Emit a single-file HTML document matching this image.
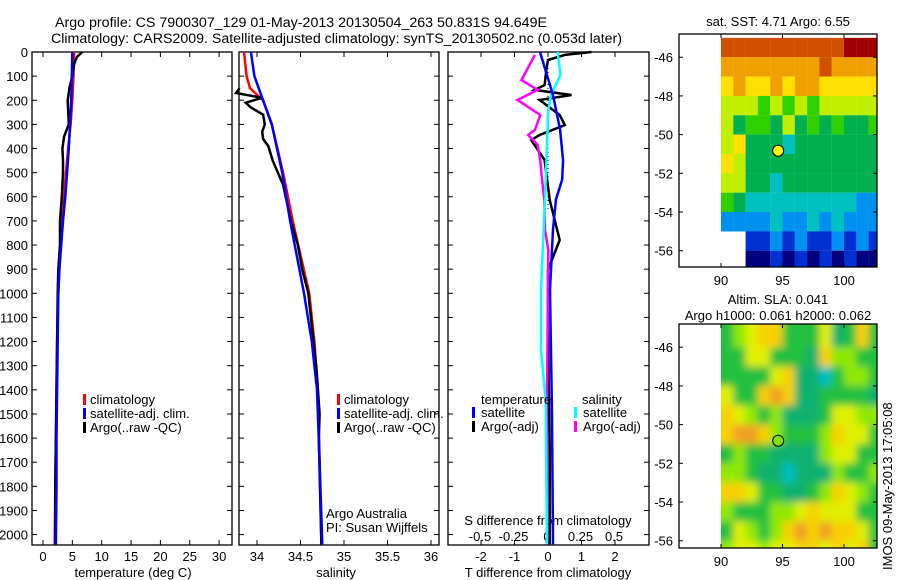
<!DOCTYPE html>
<html><head><meta charset="utf-8"><style>
body{margin:0;background:#fff;}
svg{display:block;font-family:"Liberation Sans",sans-serif;}
</style></head><body>
<svg id="fig" width="900" height="580" viewBox="0 0 900 580" xmlns="http://www.w3.org/2000/svg">
<defs><filter id="blur" x="-5%" y="-5%" width="110%" height="110%"><feGaussianBlur stdDeviation="4"/></filter></defs>
<rect width="900" height="580" fill="#fff"/>
<text x="55" y="27" font-size="14.2" textLength="492" lengthAdjust="spacingAndGlyphs">Argo profile: CS 7900307_129 01-May-2013 20130504_263 50.831S 94.649E</text>
<text x="51" y="43" font-size="14.2" textLength="571" lengthAdjust="spacingAndGlyphs">Climatology: CARS2009. Satellite-adjusted climatology: synTS_20130502.nc (0.053d later)</text>
<g id="g"></g>
</svg>
<script>
// ---- data ----
const depthTicks=[0,100,200,300,400,500,600,700,800,900,1000,1100,1200,1300,1400,1500,1600,1700,1800,1900,2000];
const tempTicks=[0,5,10,15,20,25,30];
const salTicks=[34,34.5,35,35.5,36];
const salTickLabels=["34","34.5","35","35.5","36"];
const tdTicks=[-2,-1,0,1,2];
const sdTicks=[-0.5,-0.25,0,0.25,0.5];
const sdTickLabels=["-0.5","-0.25","0","0.25","0.5"];

const climDepth=[0,100,200,300,400,500,600,700,800,900,1000,1200,1400,1600,1800,2040];
const tempClim=[5.3,5.2,5.0,4.7,4.3,3.9,3.6,3.3,3.0,2.8,2.6,2.4,2.3,2.2,2.1,2.0];
const tempSat=[5.0,4.9,4.8,4.6,4.4,4.1,3.8,3.4,3.1,2.8,2.6,2.5,2.4,2.3,2.3,2.2];
const argoTDepth=[0,20,50,100,150,200,250,300,350,400,450,500,600,700,800,900,1000,1200,1400,1600,1800,2040];
const tempArgo=[6.7,5.8,5.3,5.0,4.5,4.2,4.3,4.4,3.6,3.3,3.4,3.4,3.2,2.9,2.9,2.6,2.5,2.4,2.3,2.2,2.1,2.1];

const salClimDepth=[0,100,150,200,300,500,700,1000,1200,1400,1700,2040];
const salClim=[33.85,33.88,33.92,34.07,34.17,34.30,34.41,34.60,34.66,34.70,34.72,34.74];
const salSat=[33.93,33.97,34.02,34.07,34.17,34.29,34.38,34.54,34.63,34.69,34.72,34.75];
const salArgoDepth=[150,170,190,210,230,260,300,330,360,390,450,500,550,700,800,900,1000,1300,1500,1600,2040];
const salArgo=[33.80,33.76,34.06,33.87,33.93,34.07,34.09,34.06,34.07,34.13,34.18,34.24,34.30,34.39,34.47,34.52,34.59,34.68,34.72,34.71,34.74];

const tdDepth=[0,178,322,450,530,610,735,985,1500,2040];
const tdSat=[-0.24,0.15,0.36,0.45,0.42,0.24,0.15,0.06,0.12,0.15];
const tdArgoDepth=[0,12,33,75,137,157,178,199,261,303,344,365,448,613,779,903,1152,1649,2040];
const tdArgo=[1.3,0.5,0,-0.05,-0.1,-0.4,0.7,-0.25,0.35,0.5,-0.25,-0.5,-0.1,0.05,0.35,0,0,0.05,0.05];
const sdSatDepth=[0,95,178,240,613,986,1235,1442,2040];
const sdSat=[0.08,0.1,0.03,0.01,-0.015,-0.045,-0.045,-0.01,0];
const sdArgoDepth=[12,116,157,199,261,323,344,385,448,510,613,738,820,1442,2040];
const sdArgo=[-0.09,-0.19,-0.07,-0.22,-0.05,-0.09,-0.14,-0.07,-0.05,-0.04,-0.02,-0.015,0.01,0,0];

const mapLonTicks=[90,95,100];
const mapLatTicks=[-46,-48,-50,-52,-54,-56];
const sstRows=["9999999999AAA","8888888898888","7877878877777","6665656566666","6455464545445","6744434444444","7644444444444","6644344444444","5433333333322","2222322323222","..11212112121","..00101010100"];
const slaRows=["2345522241252","2244222153322","2222451102332","4225651122221","5432311124433","5665322235442","2322111134422","3321101113223","5542211235432","3222334544422","2432356565542","3443445545452"];
const argoLon=94.649, argoLat=-50.831;

// ---- helpers ----
const NS="http://www.w3.org/2000/svg";
const G=document.getElementById('g');
function mk(tag,attrs,parent){const e=document.createElementNS(NS,tag);for(const k in attrs)e.setAttribute(k,attrs[k]);(parent||G).appendChild(e);return e;}
const yTop=52,yBot=545;
const yD=d=>yTop+d*0.2413;
function line(xs,ds,fx,col,w,name){
  const pts=xs.map((v,i)=>fx(v).toFixed(1)+","+yD(ds[i]).toFixed(1)).join(" ");
  const p=mk('polyline',{points:pts,fill:"none",stroke:col,"stroke-width":w,"stroke-linejoin":"miter"});
  
  
}
function txt(x,y,s,size,anchor,name){const t=mk('text',{x:x,y:y,"font-size":size,"text-anchor":anchor||"start"});t.textContent=s;
  
  
  return t;}
function panel(x0,x1,name){
  const r=mk('rect',{x:x0,y:yTop,width:x1-x0,height:yBot-yTop,fill:"none",stroke:"#000","stroke-width":1.3});
  
  
  depthTicks.forEach(d=>{mk('line',{x1:x0,x2:x0+5,y1:yD(d),y2:yD(d),stroke:"#000"});mk('line',{x1:x1-5,x2:x1,y1:yD(d),y2:yD(d),stroke:"#000"});});
}
function xticks(fx,vals){vals.forEach(v=>{const x=fx(v);mk('line',{x1:x,x2:x,y1:yTop,y2:yTop+5,stroke:"#000"});mk('line',{x1:x,x2:x,y1:yBot-5,y2:yBot,stroke:"#000"});});}
function legBar(x,y,col,name){const b=mk('rect',{x:x,y:y-10,width:3,height:11,fill:col});
  
  }

// ---- panel 1: temperature ----
const fT=v=>43+v*5.87;
panel(32,232,'temperature-panel');
xticks(fT,tempTicks);
depthTicks.forEach(d=>txt(28,yD(d)+5,String(d),13,"end",'depth-tick-label'));
tempTicks.forEach(v=>txt(fT(v),561,String(v),13,"middle",'temperature-tick-label'));
txt(133,577,"temperature (deg C)",13,"middle",'temperature-axis-title');
line(tempClim,climDepth,fT,"#ff0000",2.5,'temperature-climatology-line');
line(tempArgo,argoTDepth,fT,"#000",2.5,'temperature-argo-line');
line(tempSat,climDepth,fT,"#0000ff",2.5,'temperature-satellite-line');
legBar(83,404,"#f00",'legend-climatology-swatch');txt(90,404,"climatology",13,"start",'legend-climatology');
legBar(83,418,"#00f",'legend-satellite-swatch');txt(90,418,"satellite-adj. clim.",13,"start",'legend-satellite');
legBar(83,432,"#000",'legend-argo-swatch');txt(90,432,"Argo(..raw -QC)",13,"start",'legend-argo');

// ---- panel 2: salinity ----
const fS=v=>257+(v-34)*87;
panel(239,439,'salinity-panel');
xticks(fS,salTicks);
salTicks.forEach((v,i)=>txt(fS(v),561,salTickLabels[i],13,"middle",'salinity-tick-label'));
txt(336,577,"salinity",13,"middle",'salinity-axis-title');
line(salClim,salClimDepth,fS,"#ff0000",2.5,'salinity-climatology-line');
line(salArgo,salArgoDepth,fS,"#000",2.5,'salinity-argo-line');
line(salSat,salClimDepth,fS,"#0000ff",2.5,'salinity-satellite-line');
legBar(337,404,"#f00",'legend2-climatology-swatch');txt(344,404,"climatology",13,"start",'legend2-climatology');
legBar(337,418,"#00f",'legend2-satellite-swatch');txt(344,418,"satellite-adj. clim.",13,"start",'legend2-satellite');
legBar(337,432,"#000",'legend2-argo-swatch');txt(344,432,"Argo(..raw -QC)",13,"start",'legend2-argo');
txt(326,518,"Argo Australia",13,"start",'argo-australia-label');
txt(326,532,"PI: Susan Wijffels",13,"start",'pi-label');

// ---- panel 3: differences ----
const fTd=v=>548+v*33.5, fSd=v=>547+v*134;
panel(448,649,'difference-panel');
xticks(fTd,tdTicks);
mk('line',{x1:548,x2:548,y1:yTop,y2:yD(650),stroke:"#000","stroke-dasharray":"1,3"});
tdTicks.forEach(v=>txt(fTd(v),561,String(v),13,"middle",'t-diff-tick-label'));
sdTicks.forEach((v,i)=>txt(fSd(v),541,sdTickLabels[i],13,"middle",'s-diff-tick-label'));
txt(548,525,"S difference from climatology",13,"middle",'s-diff-axis-title');
txt(548,577,"T difference from climatology",13,"middle",'t-diff-axis-title');
line(tdArgo,tdArgoDepth,fTd,"#000",2.5,'t-diff-argo-line');
line(sdArgo,sdArgoDepth,fSd,"#ff00ff",2.5,'s-diff-argo-line');
line(sdSat,sdSatDepth,fSd,"#00ffff",2.5,'s-diff-satellite-line');
line(tdSat,tdDepth,fTd,"#0000ff",2.5,'t-diff-satellite-line');
txt(481,404,"temperature",13,"start",'legend3-temperature-heading');
legBar(472,417,"#00f",'legend3-t-satellite-swatch');txt(481,417,"satellite",13,"start",'legend3-t-satellite');
legBar(472,431,"#000",'legend3-t-argo-swatch');txt(481,431,"Argo(-adj)",13,"start",'legend3-t-argo');
txt(582,404,"salinity",13,"start",'legend3-salinity-heading');
legBar(574,417,"#0ff",'legend3-s-satellite-swatch');txt(583,417,"satellite",13,"start",'legend3-s-satellite');
legBar(574,431,"#f0f",'legend3-s-argo-swatch');txt(583,431,"Argo(-adj)",13,"start",'legend3-s-argo');

// ---- maps ----
const sstPal={"0":"#00007f","1":"#0030d0","2":"#0090f0","3":"#00c0c0","4":"#00b050","5":"#30d000","6":"#c0f000","7":"#ffe000","8":"#f0a000","9":"#d05000","A":"#a00000"};
const slaPal={"0":"#00c0c0","1":"#10b070","2":"#20c040","3":"#90e800","4":"#e0f000","5":"#f8d000","6":"#f0a020"};
function drawMap(rows,pal,top,bot,latTop,markerFill,name,xlabY,smooth){
  const x0=679,x1=877;
  const fx=lon=>721+(lon-90)*12.3;
  const fy=lat=>top+(latTop-lat)*19.35;
  const clip="clip"+name;
  const cp=mk('clipPath',{id:clip});mk('rect',{x:smooth?fx(90):x0,y:top,width:smooth?x1-fx(90):x1-x0,height:bot-top},cp);
  const outer=mk('g',{"clip-path":"url(#"+clip+")"});
  const grp=mk('g',smooth?{filter:"url(#blur)"}:{},outer);
  
  
  rows.forEach((row,r)=>{[...row].forEach((c,k)=>{if(c===".")return;
    const lat=-45-r, lon=90+k;
    let x=fx(lon),y=fy(lat),w=12.4,h=19.45;
    if(smooth){ if(k===0){x-=12;w+=12;} if(k===row.length-1){w+=12;} if(r===0){y-=20;h+=20;} if(r===rows.length-1){h+=20;} }
    mk('rect',{x:x,y:y,width:w,height:h,fill:pal[c]},grp);});});
  const box=mk('rect',{x:x0,y:top,width:x1-x0,height:bot-top,fill:"none",stroke:"#000","stroke-width":1.3});
  
  
  mapLatTicks.forEach(l=>{const y=fy(l);if(y>bot)return;mk('line',{x1:x0,x2:x0+4,y1:y,y2:y,stroke:"#000"});mk('line',{x1:x1-4,x2:x1,y1:y,y2:y,stroke:"#000"});txt(673,y+5,String(l),13,"end",name+'-lat-label');});
  mapLonTicks.forEach(l=>{const x=fx(l);mk('line',{x1:x,x2:x,y1:top,y2:top+4,stroke:"#000"});mk('line',{x1:x,x2:x,y1:bot-4,y2:bot,stroke:"#000"});txt(x,xlabY,String(l),13,"middle",name+'-lon-label');});
  const m=mk('circle',{cx:fx(argoLon),cy:fy(argoLat),r:5.5,fill:markerFill,stroke:"#000","stroke-width":1});
  
  
}
txt(778,26,"sat. SST: 4.71  Argo: 6.55",13,"middle",'sst-map-title');
drawMap(sstRows,sstPal,34,267,-44.8,"#ffff00",'sst-map',285,false);
txt(778,304,"Altim. SLA: 0.041",13,"middle",'sla-map-title-1');
txt(778,320,"Argo h1000: 0.061 h2000: 0.062",13,"middle",'sla-map-title-2');
drawMap(slaRows,slaPal,324,548,-44.8,"#80e000",'sla-map',566,true);
const ts=txt(0,0,"IMOS 09-May-2013 17:05:08",13,"start",'timestamp-label');
ts.setAttribute('transform','translate(892,570) rotate(-90)');
</script>
</body></html>
